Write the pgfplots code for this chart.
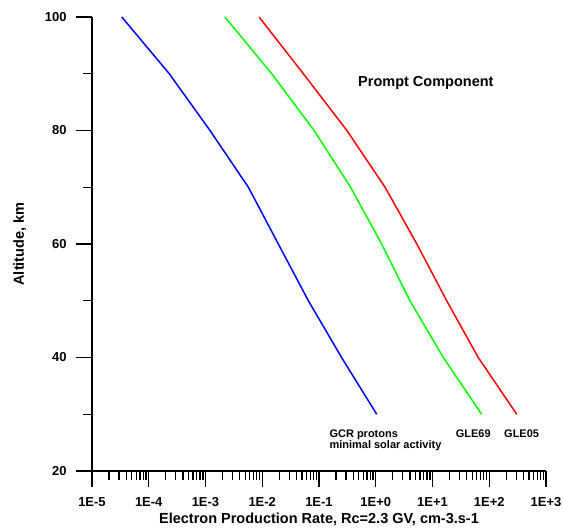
\documentclass[border=0pt]{standalone}
\usepackage{fontspec}
\setmainfont{Liberation Sans}
\usepackage{pgfplots}
\pgfplotsset{compat=1.18}
\begin{document}
\begin{tikzpicture}
\useasboundingbox (0,0) rectangle (563pt,529pt);
\begin{axis}[
  at={(92pt,58pt)}, anchor=south west,
  scale only axis, width=454pt, height=454pt,
  xmode=log, xmin=1e-5, xmax=1e3, ymin=20, ymax=100,
  axis x line*=bottom, axis y line*=left,
  axis line style={-, line width=1.3pt},
  xtick pos=bottom, ytick pos=left,
  tick align=outside,
  major tick length=16pt, minor tick length=9pt,
  major tick style={black, line width=1.3pt},
  minor tick style={black, line width=1.3pt},
  xtick={1e-5,1e-4,1e-3,1e-2,1e-1,1e0,1e1,1e2,1e3},
  xticklabels={1E-5,1E-4,1E-3,1E-2,1E-1,1E+0,1E+1,1E+2,1E+3},
  ytick={20,40,60,80,100}, minor ytick={30,50,70,90},
  /pgf/number format/assume math mode=true,
  ticklabel style={font=\bfseries\fontsize{13}{13}\selectfont},
  xticklabel style={yshift=-7pt},
  yticklabel style={xshift=-6pt},
  xlabel={Electron Production Rate, Rc=2.3 GV, cm-3.s-1},
  ylabel={Altitude, km},
  label style={font=\bfseries\fontsize{14.5}{14.5}\selectfont},
  xlabel style={at={(axis description cs:0.5,0)}, anchor=base, yshift=-53pt},
  ylabel style={at={(axis description cs:-0.1498,0.5)}, anchor=base},
  clip=false,
]
\addplot[blue, line width=1.5pt] coordinates {(3.35e-5,100) (2.3e-4,90) (1.2e-3,80) (5.7e-3,70) (1.92e-2,60) (6.5e-2,50) (0.25,40) (1.04,30)};
\addplot[green, line width=1.5pt] coordinates {(2.2e-3,100) (1.47e-2,90) (8.2e-2,80) (0.36,70) (1.27,60) (4.0,50) (15.5,40) (73.5,30)};
\addplot[red, line width=1.5pt] coordinates {(8.8e-3,100) (5.3e-2,90) (0.31,80) (1.46,70) (5.3,60) (17.8,50) (64,40) (305,30)};
\node[anchor=base west, inner sep=0pt, font=\bfseries\fontsize{14.5}{14.5}\selectfont] at (axis cs:0.487,87.84) {Prompt Component};
\node[anchor=base west, inner sep=0pt, font=\bfseries\fontsize{11}{11}\selectfont] at (axis cs:0.152,25.99) {GCR protons};
\node[anchor=base west, inner sep=0pt, font=\bfseries\fontsize{11}{11}\selectfont] at (axis cs:0.152,23.88) {minimal solar activity};
\node[anchor=base west, inner sep=0pt, font=\bfseries\fontsize{11}{11}\selectfont] at (axis cs:25.6,25.99) {GLE69};
\node[anchor=base west, inner sep=0pt, font=\bfseries\fontsize{11}{11}\selectfont] at (axis cs:182,25.99) {GLE05};
\end{axis}
\end{tikzpicture}
\end{document}
